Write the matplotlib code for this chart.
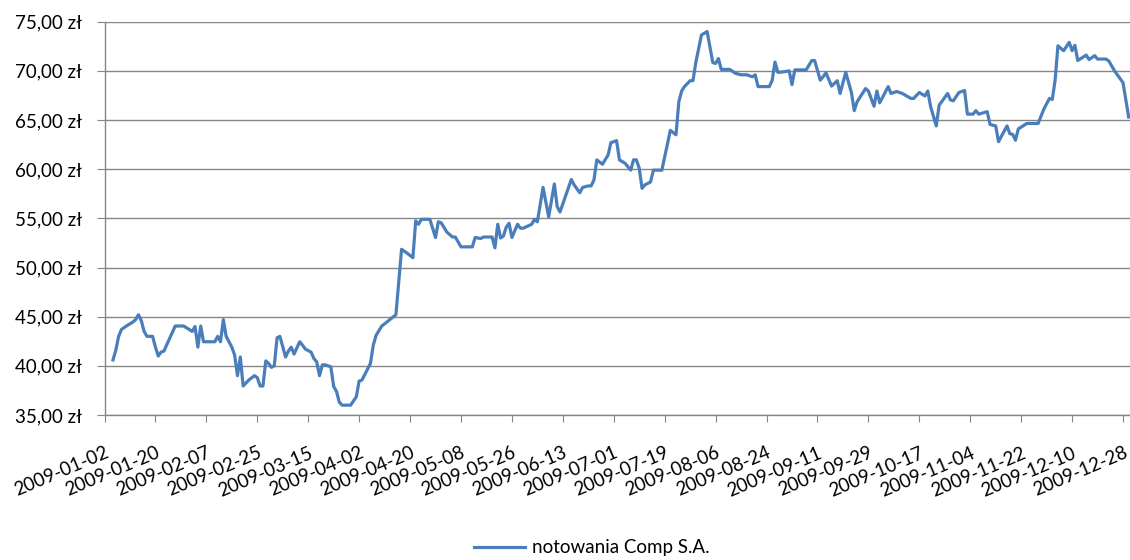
import numpy as np
import matplotlib
matplotlib.use("Agg")
import matplotlib.pyplot as plt
from matplotlib.ticker import FuncFormatter

plt.rcParams['font.family'] = ['Lato', 'DejaVu Sans']

# notowania Comp S.A. w 2009 roku
start = np.datetime64('2009-01-02')
# dni od 2009-01-02
days = [3, 4, 5, 6, 8, 10, 11, 12, 13, 14, 15, 17, 18, 19, 20, 21, 25, 28, 31, 32,
        33, 34, 35, 39, 40, 41, 42, 43, 45, 46, 47, 48, 49, 51, 53, 54, 55, 56, 57, 58,
        59, 60, 61, 62, 64, 65, 66, 67, 69, 70, 71, 73, 74, 75, 76, 77, 78, 80, 81, 82,
        83, 84, 87, 89, 90, 91, 94, 95, 96, 98, 100, 103, 105, 107, 109, 110, 111, 112, 115, 117,
        118, 119, 121, 123, 124, 125, 126, 130, 131, 133, 134, 137, 138, 139, 140, 141, 142, 143, 144, 146,
        147, 148, 151, 152, 153, 155, 157, 159, 160, 161, 165, 166, 168, 169, 171, 172, 173, 174, 176, 178,
        179, 181, 182, 184, 186, 187, 188, 189, 190, 191, 193, 194, 197, 200, 202, 203, 204, 205, 207, 208,
        209, 211, 213, 215, 216, 217, 218, 221, 223, 225, 227, 229, 230, 231, 235, 236, 237, 238, 240, 242,
        243, 244, 248, 250, 251, 253, 254, 255, 257, 259, 260, 262, 264, 265, 266, 269, 270, 272, 273, 274,
        277, 278, 280, 282, 285, 286, 288, 290, 291, 292, 294, 295, 298, 299, 300, 302, 304, 305, 307, 308,
        309, 312, 313, 315, 316, 319, 320, 321, 322, 323, 326, 330, 332, 334, 335, 336, 337, 339, 341, 342,
        343, 344, 347, 348, 350, 351, 354, 355, 357, 360, 362]
prices = [40.6, 41.6, 43.0, 43.7, 44.1, 44.45, 44.7, 45.2, 44.6, 43.5, 43.0, 43.0, 41.9, 41.0, 41.4, 41.5, 44.05, 44.05, 43.5, 44.0,
          41.9, 44.05, 42.45, 42.45, 43.0, 42.45, 44.7, 43.0, 41.9, 41.1, 39.0, 40.9, 37.95, 38.55, 39.0, 38.8, 37.95, 37.95, 40.5, 40.25,
          39.85, 40.0, 42.85, 43.0, 40.9, 41.5, 41.9, 41.2, 42.45, 42.1, 41.7, 41.4, 40.75, 40.4, 39.0, 40.1, 40.1, 39.9, 37.9, 37.4,
          36.3, 36.0, 36.0, 36.85, 38.45, 38.55, 40.25, 42.1, 43.1, 44.05, 44.5, 45.2, 51.85, 51.45, 51.0, 54.75, 54.4, 54.9, 54.9, 53.05,
          54.65, 54.55, 53.6, 53.1, 53.1, 52.6, 52.1, 52.1, 53.05, 52.95, 53.1, 53.1, 52.0, 54.4, 53.0, 53.2, 54.1, 54.5, 53.05, 54.4,
          54.0, 54.0, 54.4, 54.9, 54.65, 58.15, 55.15, 58.5, 56.2, 55.65, 58.95, 58.4, 57.6, 58.15, 58.3, 58.3, 58.9, 60.95, 60.5, 61.45,
          62.7, 62.9, 60.95, 60.6, 59.9, 60.95, 60.95, 60.1, 58.05, 58.4, 58.7, 59.9, 59.9, 63.95, 63.5, 66.85, 67.95, 68.4, 69.0, 69.0,
          70.85, 73.65, 74.0, 70.85, 70.75, 71.25, 70.15, 70.15, 69.75, 69.6, 69.6, 69.4, 69.6, 68.4, 68.4, 69.05, 70.9, 69.85, 69.9, 70.0,
          68.6, 70.1, 70.1, 71.05, 71.05, 69.05, 69.4, 69.8, 68.45, 69.0, 67.7, 69.85, 67.8, 65.95, 66.85, 68.2, 67.95, 66.4, 67.95, 66.75,
          68.4, 67.7, 67.9, 67.7, 67.2, 67.2, 67.8, 67.45, 67.95, 66.35, 64.4, 66.5, 67.7, 67.05, 66.95, 67.8, 68.0, 65.6, 65.6, 65.95,
          65.6, 65.85, 64.55, 64.4, 62.8, 64.4, 63.6, 63.55, 62.95, 64.1, 64.65, 64.65, 66.1, 67.2, 67.1, 69.05, 72.55, 72.05, 72.9, 72.05,
          72.6, 71.05, 71.6, 71.15, 71.55, 71.2, 71.2, 71.0, 70.0, 68.8, 65.3]
series_name = "notowania Comp S.A."
y_ticks = [35, 40, 45, 50, 55, 60, 65, 70, 75]

dates = start + np.array(days).astype('timedelta64[D]')
tick_dates = start + np.arange(0, 361, 18).astype('timedelta64[D]')
end = np.datetime64('2009-12-31')

W, H = 1130, 560
fig = plt.figure(figsize=(W / 100, H / 100), dpi=100)
ax = fig.add_axes([104.5 / W, 145 / H, 1027 / W, 393.3 / H])

ax.plot(dates, prices, color='#4A7EBB', lw=2.3, label=series_name,
        solid_joinstyle='round', zorder=3)

ax.set_xlim(start, end)
ax.set_ylim(35, 75)
ax.set_yticks(y_ticks)
ax.yaxis.set_major_formatter(FuncFormatter(lambda v, p: f"{v:.2f} zł".replace('.', ',')))
ax.set_xticks(tick_dates)
ax.set_xticklabels([str(d) for d in tick_dates], rotation=23, ha='right',
                   rotation_mode='anchor')

grid_c = '#868686'
ax.yaxis.grid(True, color=grid_c, lw=1)
ax.set_axisbelow(True)
for s in ['top', 'right']:
    ax.spines[s].set_visible(False)
for s in ['left', 'bottom']:
    ax.spines[s].set_color(grid_c)
    ax.spines[s].set_linewidth(1)
ax.tick_params(axis='y', length=5.5, color=grid_c, pad=10.5, labelsize=13.5)
ax.tick_params(axis='x', length=5, color=grid_c, pad=16, labelsize=13.5)

fig.legend(loc='center', bbox_to_anchor=(592 / W, 1 - 548 / H), frameon=False,
           fontsize=13.5, handlelength=2.7, handletextpad=0.4)

fig.savefig('out.png', dpi=100, facecolor='white')
